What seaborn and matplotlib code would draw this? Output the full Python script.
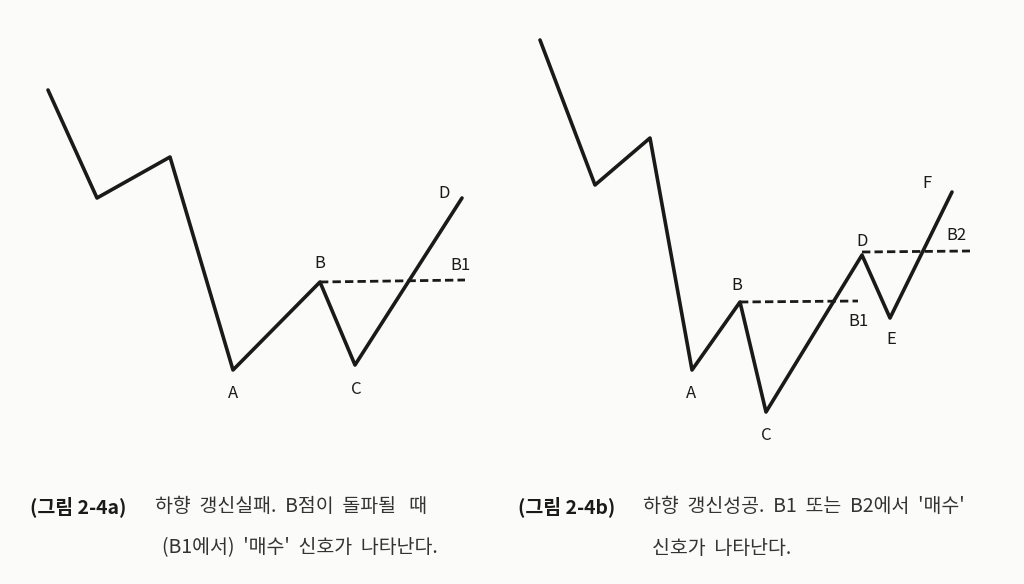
import matplotlib
matplotlib.use("Agg")
import matplotlib.pyplot as plt
import seaborn as sns

sns.set_theme(style="white")
plt.rcParams['font.family'] = ['Noto Sans CJK KR', 'DejaVu Sans']

# Left diagram (image coordinates)
left_x = [48, 97, 170, 233, 320, 355, 462]
left_y = [90, 198, 157, 370, 282, 365, 198]
left_b1_x = [320, 465]
left_b1_y = [282, 280]
left_labels = ["A", "B", "C", "D", "B1"]
left_lab_x = [233, 320, 356, 444, 460]
left_lab_y = [394, 263, 389, 194, 265]

# Right diagram
right_x = [540, 595, 650, 692, 740, 766, 862, 890, 952]
right_y = [40, 185, 138, 370, 302, 412, 255, 318, 192]
right_b1_x = [740, 858]
right_b1_y = [302, 301]
right_b2_x = [862, 970]
right_b2_y = [252, 251]
right_labels = ["A", "B", "C", "B1", "D", "E", "F", "B2"]
right_lab_x = [691, 737, 766, 858, 862, 891, 927, 956]
right_lab_y = [394, 285, 436, 321, 241, 340, 184, 236]

fig = plt.figure(figsize=(10.24, 5.84), dpi=100)
fig.patch.set_facecolor("#fbfbfa")
ax = fig.add_axes([0, 0, 1, 1])
ax.set_facecolor("#fbfbfa")
ax.set_xlim(0, 1024)
ax.set_ylim(584, 0)
ax.axis("off")

lw = 2.6
c = "#1a1a1a"
sns.lineplot(x=left_x, y=left_y, sort=False, ax=ax, color=c, lw=lw)
sns.lineplot(x=right_x, y=right_y, sort=False, ax=ax, color=c, lw=lw)
for xs, ys in [(left_b1_x, left_b1_y), (right_b1_x, right_b1_y), (right_b2_x, right_b2_y)]:
    ax.plot(xs, ys, color=c, lw=2, ls=(0, (3, 1.5)))

for labs, xs, ys in [(left_labels, left_lab_x, left_lab_y), (right_labels, right_lab_x, right_lab_y)]:
    for t, x, y in zip(labs, xs, ys):
        ax.text(x, y, t, ha="center", va="center", fontsize=12, color=c)

fs = 14
ax.text(30, 507, "(그림 2-4a)", fontsize=fs, fontweight="bold", va="center", color=c)
ax.text(155, 507, "하향  갱신실패.  B점이  돌파될   때", fontsize=fs, va="center", color="#333")
ax.text(300, 548, "(B1에서)  '매수'  신호가  나타난다.", fontsize=fs, va="center", ha="center", color="#333")
ax.text(518, 507, "(그림 2-4b)", fontsize=fs, fontweight="bold", va="center", color=c)
ax.text(643, 507, "하향  갱신성공.  B1  또는  B2에서  '매수'", fontsize=fs, va="center", color="#333")
ax.text(722, 548, "신호가  나타난다.", fontsize=fs, va="center", ha="center", color="#333")

fig.savefig("out.png", dpi=100, facecolor=fig.get_facecolor())
